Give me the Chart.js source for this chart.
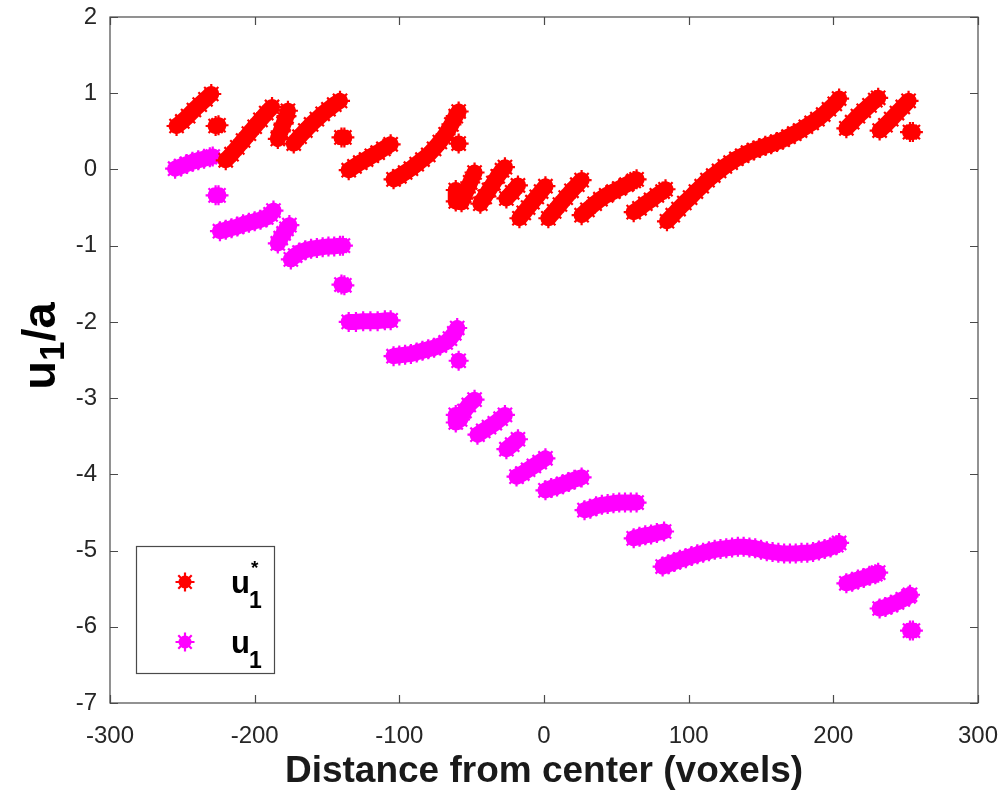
<!DOCTYPE html>
<html><head><meta charset="utf-8">
<script src="https://cdn.jsdelivr.net/npm/chart.js@4.4.1/dist/chart.umd.min.js"></script>
<style>html,body{margin:0;padding:0;background:#fff;}#wrap{width:1006px;height:798px;position:relative;}</style>
</head><body><div id="wrap"><canvas id="c"></canvas></div>
<script>
// ---- data; null = break between runs ----
const xTickStep = 100, xMin = -300, xMax = 300;
const yTickStep = 1, yMin = -7, yMax = 2;
const xTitle = 'Distance from center (voxels)';
const seriesColors = ['#FF0000', '#FF00FF'];

// u1* (red)
const uStar = [
  [-254,0.57],[-250,0.63],[-246,0.70],[-242,0.78],[-238,0.85],[-234,0.92],[-230,0.99], null,
  [-227,0.57],[-225,0.58], null,
  [-220,0.12],[-216,0.20],[-212,0.29],[-208,0.38],[-204,0.47],[-200,0.56],[-196,0.65],[-192,0.74],[-188,0.82], null,
  [-184,0.40],[-182,0.50],[-180,0.60],[-178,0.70],[-177,0.77], null,
  [-173,0.34],[-169,0.43],[-165,0.51],[-161,0.59],[-157,0.66],[-153,0.73],[-149,0.79],[-145,0.85],[-141,0.90], null,
  [-140,0.42],[-138,0.42], null,
  [-135,-0.01],[-131,0.04],[-127,0.09],[-123,0.13],[-119,0.18],[-115,0.22],[-111,0.27],[-106,0.33], null,
  [-104,-0.13],[-100,-0.09],[-96,-0.04],[-92,0.01],[-88,0.07],[-84,0.13],[-80,0.19],[-76,0.27],[-72,0.36],[-68,0.46],[-64,0.59],[-61,0.70],[-59,0.76], null,
  [-59,0.34], null,
  [-61,-0.27],[-61,-0.42],[-57,-0.43],[-54,-0.30],[-51,-0.17],[-48,-0.04], null,
  [-44,-0.45],[-41,-0.36],[-38,-0.27],[-35,-0.18],[-32,-0.09],[-29,-0.01],[-27,0.03], null,
  [-26,-0.38],[-22,-0.30],[-18,-0.21], null,
  [-17,-0.64],[-14,-0.57],[-11,-0.50],[-8,-0.43],[-5,-0.36],[-2,-0.29],[1,-0.22], null,
  [3,-0.64],[7,-0.55],[11,-0.46],[15,-0.37],[19,-0.28],[23,-0.20],[26,-0.14], null,
  [26,-0.60],[30,-0.53],[35,-0.45],[39,-0.39],[43,-0.34],[48,-0.29],[52,-0.25],[57,-0.20],[62,-0.15],[64,-0.13], null,
  [62,-0.56],[66,-0.51],[70,-0.45],[74,-0.40],[78,-0.34],[82,-0.29],[84,-0.26], null,
  [85,-0.68],[89,-0.60],[93,-0.52],[97,-0.44],[101,-0.37],[105,-0.29],[109,-0.22],[113,-0.14],[117,-0.08],[121,-0.02],
  [125,0.04],[129,0.09],[133,0.14],[137,0.18],[141,0.22],[145,0.25],[149,0.28],[153,0.31],[157,0.33],[161,0.36],
  [165,0.39],[169,0.43],[173,0.47],[177,0.51],[181,0.56],[185,0.61],[189,0.66],[193,0.72],[197,0.79],[201,0.86],[204,0.93], null,
  [209,0.54],[213,0.62],[217,0.70],[221,0.77],[225,0.84],[229,0.91],[231,0.94], null,
  [232,0.51],[236,0.58],[240,0.66],[244,0.74],[248,0.82],[252,0.90], null,
  [253,0.49],[255,0.49]
];

// u1 (magenta)
const u1 = [
  [-255,0.01],[-251,0.04],[-247,0.07],[-243,0.10],[-239,0.12],[-235,0.14],[-231,0.16],[-229,0.17], null,
  [-227,-0.34],[-225,-0.34], null,
  [-224,-0.81],[-220,-0.79],[-216,-0.77],[-212,-0.75],[-208,-0.72],[-204,-0.70],[-200,-0.68],[-196,-0.66],[-192,-0.63],[-189,-0.59],[-187,-0.54], null,
  [-184,-0.97],[-182,-0.90],[-180,-0.84],[-178,-0.78],[-176,-0.73], null,
  [-175,-1.18],[-172,-1.13],[-169,-1.09],[-165,-1.06],[-161,-1.04],[-157,-1.03],[-153,-1.02],[-149,-1.01],[-145,-1.01],[-141,-1.00],[-139,-1.00], null,
  [-140,-1.51],[-138,-1.52], null,
  [-135,-2.00],[-130,-2.00],[-125,-1.99],[-120,-1.99],[-115,-1.99],[-110,-1.98],[-106,-1.98], null,
  [-104,-2.45],[-100,-2.44],[-96,-2.43],[-92,-2.42],[-88,-2.40],[-84,-2.38],[-80,-2.36],[-76,-2.34],[-72,-2.31],[-68,-2.27],[-65,-2.22],[-62,-2.15],[-60,-2.08], null,
  [-59,-2.51], null,
  [-61,-3.22],[-61,-3.32],[-58,-3.28],[-55,-3.17],[-52,-3.09],[-48,-3.02], null,
  [-46,-3.48],[-42,-3.43],[-38,-3.38],[-34,-3.33],[-30,-3.27],[-27,-3.22], null,
  [-26,-3.67],[-22,-3.61],[-18,-3.54], null,
  [-19,-4.03],[-15,-3.99],[-11,-3.94],[-7,-3.89],[-3,-3.84],[1,-3.79], null,
  [1,-4.21],[5,-4.18],[9,-4.16],[13,-4.13],[17,-4.10],[21,-4.07],[26,-4.04], null,
  [28,-4.47],[32,-4.45],[36,-4.42],[40,-4.40],[44,-4.39],[48,-4.38],[52,-4.37],[56,-4.37],[60,-4.37],[64,-4.37], null,
  [62,-4.84],[66,-4.82],[70,-4.80],[74,-4.79],[78,-4.77],[83,-4.75], null,
  [82,-5.21],[86,-5.18],[90,-5.15],[94,-5.12],[98,-5.10],[102,-5.07],[106,-5.05],[110,-5.03],[114,-5.01],[118,-4.99],
  [122,-4.98],[126,-4.97],[130,-4.96],[134,-4.95],[138,-4.95],[142,-4.96],[146,-4.97],[150,-4.99],[154,-5.01],[158,-5.02],
  [162,-5.03],[166,-5.04],[170,-5.04],[174,-5.04],[178,-5.03],[182,-5.03],[186,-5.02],[190,-5.00],[194,-4.98],[198,-4.96],[202,-4.93],[204,-4.90], null,
  [209,-5.43],[213,-5.41],[217,-5.38],[221,-5.36],[225,-5.33],[229,-5.31],[231,-5.29], null,
  [232,-5.76],[236,-5.74],[240,-5.71],[244,-5.68],[248,-5.64],[252,-5.60],[253,-5.58], null,
  [253,-6.05],[255,-6.05]
];

function toData(arr){
  let last = 0;
  return arr.map(p => { if (p) { last = p[0]; return {x:p[0], y:p[1]}; } return {x:last, y:null}; });
}
const FONT = '"Liberation Sans", Arial, Helvetica, sans-serif';

function bodyDs(arr, color){
  return {data: toData(arr), showLine:true, borderColor:color, backgroundColor:color, borderWidth:16,
    borderCapStyle:'round', borderJoinStyle:'round', pointRadius:0, spanGaps:false, tension:0};
}
function starDs(arr, color){
  return {data: toData(arr), showLine:false, pointStyle:'star', pointRadius:10, pointBorderWidth:2.2,
    pointBorderColor:color, pointBackgroundColor:color, borderColor:color};
}

const framePlugin = {
  id:'frame',
  afterDraw(chart){
    const {ctx, chartArea:a, scales:{x, y}} = chart;
    ctx.save();
    ctx.strokeStyle = '#4a4a4a'; ctx.lineWidth = 1.2;
    ctx.strokeRect(a.left, a.top, a.right - a.left, a.bottom - a.top);
    const tl = 8;
    ctx.beginPath();
    x.ticks.forEach(t => { const px = Math.round(x.getPixelForValue(t.value)) + 0.5;
      ctx.moveTo(px, a.bottom); ctx.lineTo(px, a.bottom - tl);
      ctx.moveTo(px, a.top); ctx.lineTo(px, a.top + tl); });
    y.ticks.forEach(t => { const py = Math.round(y.getPixelForValue(t.value)) + 0.5;
      ctx.moveTo(a.left, py); ctx.lineTo(a.left + tl, py);
      ctx.moveTo(a.right, py); ctx.lineTo(a.right - tl, py); });
    ctx.stroke();

    // y-axis title: u_1/a (rotated)
    const yc = (a.top + a.bottom) / 2 - 14;
    ctx.fillStyle = '#000';
    ctx.translate(55, yc);
    ctx.rotate(-Math.PI / 2);
    ctx.textBaseline = 'alphabetic'; ctx.textAlign = 'left';
    const big = 'bold 47px ' + FONT, sub = 'bold 35px ' + FONT;
    ctx.font = big; const wu = ctx.measureText('u').width;
    ctx.font = sub; const w1 = ctx.measureText('1').width;
    ctx.font = big; const wa = ctx.measureText('/a').width;
    const total = wu + w1 + wa;
    let sx = -total / 2;
    ctx.font = big; ctx.fillText('u', sx, 0);
    ctx.font = sub; ctx.fillText('1', sx + wu, 9);
    ctx.font = big; ctx.fillText('/a', sx + wu + w1, 0);
    ctx.restore();

    // legend box
    ctx.save();
    const lx = a.left + 26, ly = a.bottom - 157, lw = 138, lh = 127;
    ctx.fillStyle = '#fff'; ctx.fillRect(lx, ly, lw, lh);
    ctx.strokeStyle = '#4a4a4a'; ctx.lineWidth = 1.2; ctx.strokeRect(lx + 0.5, ly + 0.5, lw, lh);
    const rows = [{c: seriesColors[0], sup: true, my: ly + 36}, {c: seriesColors[1], sup: false, my: ly + 96}];
    rows.forEach(r => {
      const mx = lx + 49;
      ctx.fillStyle = r.c; ctx.beginPath(); ctx.arc(mx, r.my, 6.5, 0, Math.PI*2); ctx.fill();
      ctx.strokeStyle = r.c; ctx.lineWidth = 2.2;
      Chart.helpers.drawPoint(ctx, {pointStyle:'star', radius:9.5, borderWidth:2.2}, mx, r.my);
      ctx.fillStyle = '#000'; ctx.textBaseline = 'alphabetic'; ctx.textAlign = 'left';
      ctx.font = 'bold 31px ' + FONT; ctx.fillText('u', lx + 95, r.my + 11);
      ctx.font = 'bold 23px ' + FONT; ctx.fillText('1', lx + 113, r.my + 26);
      if (r.sup) { ctx.font = 'bold 19px ' + FONT; ctx.fillText('*', lx + 115, r.my - 8); }
    });
    ctx.restore();
  }
};

new Chart(document.getElementById('c'), {
  type:'scatter',
  data:{ datasets:[
    starDs(uStar, seriesColors[0]), bodyDs(uStar, seriesColors[0]),
    starDs(u1, seriesColors[1]), bodyDs(u1, seriesColors[1])
  ]},
  options:{
    responsive:true, maintainAspectRatio:false, animation:false,
    layout:{padding:{left:0, top:17, right:28, bottom:0}},
    plugins:{legend:{display:false}, tooltip:{enabled:false}},
    scales:{
      x:{type:'linear', min:xMin, max:xMax,
        ticks:{stepSize:xTickStep, padding:19, color:'#262626', font:{family:FONT, size:24}, maxRotation:0},
        grid:{display:false, drawTicks:false}, border:{display:false},
        title:{display:true, text:xTitle, color:'#1a1a1a', font:{family:FONT, size:37, weight:'bold'}, padding:{top:0, bottom:4}},
        afterFit(s){ s.height = 95; s.paddingLeft = 0; s.paddingRight = 0; }
      },
      y:{type:'linear', min:yMin, max:yMax,
        ticks:{stepSize:yTickStep, padding:13, color:'#262626', font:{family:FONT, size:24}},
        grid:{display:false, drawTicks:false}, border:{display:false},
        afterFit(s){ s.width = 110; s.paddingTop = 0; s.paddingBottom = 0; }
      }
    }
  },
  plugins:[framePlugin]
});
</script></body></html>
